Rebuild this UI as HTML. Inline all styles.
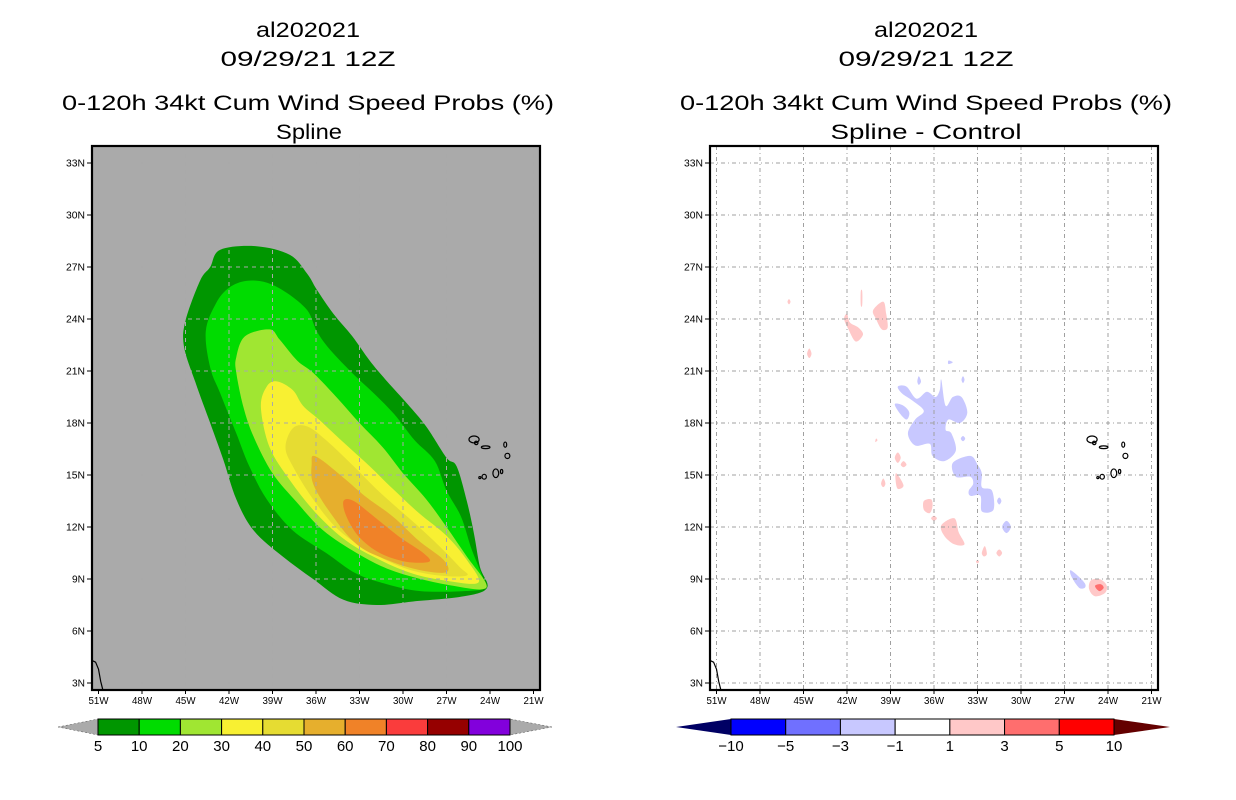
<!DOCTYPE html>
<html><head><meta charset="utf-8"><style>
html,body{margin:0;padding:0;background:#fff;width:1236px;height:800px;overflow:hidden}
svg{display:block;font-family:"Liberation Sans",sans-serif}
</style></head><body>
<svg id="root" width="1236" height="800" viewBox="0 0 1236 800">
<defs>
<clipPath id="clipL"><rect x="92" y="146" width="448" height="544"/></clipPath>
<clipPath id="clipR"><rect x="710" y="146" width="448" height="544"/></clipPath>
</defs>
<g font-size="21" text-anchor="middle" fill="#000">
<text x="308" y="37" textLength="104" lengthAdjust="spacingAndGlyphs">al202021</text>
<text x="308" y="66" textLength="175" lengthAdjust="spacingAndGlyphs">09/29/21 12Z</text>
<text x="308" y="110" textLength="492" lengthAdjust="spacingAndGlyphs">0-120h 34kt Cum Wind Speed Probs (%)</text>
<text x="309" y="139" textLength="66" lengthAdjust="spacingAndGlyphs">Spline</text>
</g>
<g font-size="21" text-anchor="middle" fill="#000">
<text x="926" y="37" textLength="104" lengthAdjust="spacingAndGlyphs">al202021</text>
<text x="926" y="66" textLength="175" lengthAdjust="spacingAndGlyphs">09/29/21 12Z</text>
<text x="926" y="110" textLength="492" lengthAdjust="spacingAndGlyphs">0-120h 34kt Cum Wind Speed Probs (%)</text>
<text x="926" y="139" textLength="191" lengthAdjust="spacingAndGlyphs">Spline - Control</text>
</g>
<g id="left"></g>
<g id="right"></g>
<g id="cbars"></g>
</svg>
<script>
const NS="http://www.w3.org/2000/svg";
// ----- data -----
const lonTicks=[51,48,45,42,39,36,33,30,27,24,21];
const latTicks=[33,30,27,24,21,18,15,12,9,6,3];
const probLevels=[5,10,20,30,40,50,60];
const probColors=["#009600","#00dc00","#a0e632","#f8f032","#e6dc32","#e6af2d","#f08228"];
const c5=[[42.6,28.0],[40.1,28.2],[37.8,27.7],[36.6,26.6],[35.95,25.7],[34.8,24.3],[33.5,23.0],[32.3,21.6],[31.2,20.5],[29.7,19.1],[28.4,17.8],[27.0,16.0],[26.3,15.5],[25.6,13.5],[25.1,11.6],[24.7,9.7],[24.2,8.5],[25.8,8.0],[29.3,7.7],[31.8,7.5],[34.1,7.8],[36.2,9.0],[38.3,10.3],[40.3,11.8],[41.5,13.6],[42.4,15.9],[43.3,18.0],[44.3,20.3],[45.1,22.4],[45.0,23.9],[44.0,26.2],[43.3,27.0]];
const c10=[[42.0,25.8],[40.8,26.2],[39.4,26.1],[38.0,25.5],[36.6,24.5],[35.95,23.3],[35.0,22.2],[33.4,20.8],[32.0,19.7],[30.6,18.5],[29.2,17.0],[27.8,15.8],[27.0,14.1],[26.0,12.6],[25.3,10.8],[24.6,9.3],[24.3,8.5],[25.8,8.3],[28.8,8.3],[31.1,8.7],[33.2,9.3],[35.3,10.5],[37.6,11.8],[39.4,13.6],[40.6,15.5],[41.5,17.4],[42.6,19.7],[43.3,21.2],[43.6,23.3],[42.9,24.9]];
const c20=[[40.9,23.0],[39.2,23.4],[38.5,22.8],[37.3,21.6],[36.2,20.9],[34.6,19.5],[33.0,18.0],[31.4,16.6],[30.0,15.1],[28.4,13.6],[27.0,12.0],[25.6,10.3],[24.3,8.8],[24.6,8.4],[26.5,8.6],[28.8,9.0],[31.1,9.6],[33.2,10.5],[35.5,11.8],[37.3,13.4],[39.0,15.1],[40.3,17.2],[41.0,18.9],[41.5,20.9],[41.5,21.8]];
const c30=[[39.4,20.1],[38.7,20.4],[37.6,19.9],[36.9,19.0],[35.8,18.2],[34.0,16.8],[32.3,15.5],[30.7,14.2],[28.9,12.8],[27.0,11.5],[25.6,10.1],[24.8,8.8],[27.0,8.9],[29.3,9.3],[31.6,10.1],[33.9,11.2],[36.0,12.8],[37.8,14.7],[39.2,16.6],[39.8,18.9]];
const c40=[[37.6,17.7],[36.6,17.8],[35.3,17.0],[33.4,15.5],[31.6,14.0],[29.3,12.3],[27.5,10.9],[26.1,9.7],[25.6,9.2],[27.5,9.2],[29.8,9.6],[32.1,10.5],[34.4,11.8],[36.2,13.6],[37.6,15.5],[38.1,16.6]];
const c50=[[36.2,16.1],[35.5,15.8],[33.9,14.7],[32.5,13.7],[30.7,12.6],[28.9,11.2],[27.2,10.1],[27.0,9.4],[28.8,9.5],[31.1,10.1],[33.2,11.0],[35.0,12.8],[36.2,14.5],[36.3,15.7]];
const c60=[[34.1,13.5],[33.4,13.5],[32.0,12.6],[30.2,11.4],[28.6,10.5],[28.2,10.0],[29.8,10.0],[31.6,10.5],[33.0,11.4],[33.9,12.6]];
const probContours=[c5,c10,c20,c30,c40,c50,c60];
// difference field blobs (W lon, N lat)
const diffNeg=[
[[38.5,20.1],[37.9,20.1],[37.2,19.4],[36.5,19.8],[35.9,19.5],[35.6,19.9],[35.5,20.5],[35.2,19.0],[34.7,19.5],[34.1,19.5],[33.7,18.6],[34.2,18.0],[35.0,18.2],[35.2,17.6],[34.8,17.4],[34.5,16.4],[35.3,15.8],[36.1,16.1],[36.3,16.8],[37.3,16.7],[37.8,17.4],[37.3,18.2],[36.7,18.7],[37.5,19.3],[38.2,19.7]],
[[38.7,19.1],[38.1,19.0],[37.7,18.6],[37.9,18.2],[38.4,18.6]],
[[34.7,15.7],[33.5,16.1],[33.0,15.6],[32.7,15.1],[32.7,14.3],[32.0,14.1],[31.9,13.0],[32.7,12.9],[32.8,13.8],[33.5,13.8],[33.6,14.1],[33.3,14.5],[33.5,14.9],[34.5,14.9]],
[[31.0,12.35],[30.7,12.0],[31.0,11.65],[31.3,12.0]],
[[37.05,20.7],[36.9,20.4],[37.05,20.2],[37.15,20.4]],
[[34.0,20.7],[33.9,20.5],[34.0,20.3],[34.1,20.5]],
[[35.0,21.6],[34.7,21.5],[35.0,21.4]],
[[34.0,17.25],[33.85,17.1],[34.0,16.95],[34.15,17.1]],
[[31.5,13.7],[31.35,13.5],[31.5,13.3],[31.65,13.5]],
[[26.6,9.5],[26.1,9.2],[25.6,8.75],[25.6,8.5],[26.0,8.5],[26.5,9.1]]
];
const diffPos1=[
[[40.2,24.5],[39.5,25.0],[39.3,24.3],[39.2,23.5],[39.6,23.4],[40.0,24.0]],
[[42.0,24.3],[41.8,23.8],[41.2,23.5],[40.9,23.1],[41.4,22.7],[41.9,23.4],[42.2,24.0]],
[[41.05,25.6],[40.95,25.6],[40.95,24.8],[41.05,24.8]],
[[44.6,22.3],[44.45,22.0],[44.6,21.75],[44.75,22.0]],
[[46.0,25.15],[45.9,25.0],[46.0,24.85],[46.1,25.0]],
[[38.5,16.3],[38.3,16.0],[38.5,15.7],[38.7,16.0]],
[[38.1,15.8],[37.9,15.6],[38.1,15.45],[38.3,15.6]],
[[38.6,15.1],[38.1,14.4],[38.5,14.2],[38.65,14.7]],
[[39.5,14.8],[39.35,14.5],[39.5,14.3],[39.65,14.5]],
[[36.7,13.5],[36.2,13.6],[36.1,13.2],[36.3,12.8],[36.7,13.0]],
[[36.0,12.65],[35.8,12.5],[36.0,12.35],[36.2,12.5]],
[[35.5,12.1],[34.6,12.5],[34.3,11.7],[33.9,11.0],[34.6,11.0],[35.3,11.5]],
[[32.5,10.9],[32.35,10.45],[32.55,10.3],[32.7,10.5]],
[[31.5,10.7],[31.3,10.5],[31.5,10.3],[31.7,10.5]],
[[33.0,10.1],[32.9,10.0],[33.0,9.9],[33.1,10.0]],
[[40.0,17.1],[39.9,17.0],[40.05,16.9]],
[[25.2,8.9],[24.6,9.0],[24.1,8.65],[24.2,8.2],[24.9,8.0],[25.3,8.4]]
];
const diffPos3=[[[24.9,8.6],[24.5,8.7],[24.3,8.5],[24.6,8.3]]];
const islands=[[25.1,17.05,0.35,0.2],[24.95,16.85,0.12,0.1],[24.3,16.6,0.3,0.08],[22.95,16.75,0.1,0.15],[22.8,16.1,0.17,0.15],[23.6,15.1,0.2,0.25],[24.4,14.9,0.15,0.14],[24.7,14.85,0.07,0.06],[23.2,15.2,0.08,0.12]];
const coast=[[51.45,4.3],[51.2,4.2],[51.0,3.8],[50.85,3.1],[50.7,2.6]];
const probBarLabels=["5","10","20","30","40","50","60","70","80","90","100"];
const probBarColors=["#009600","#00dc00","#a0e632","#f8f032","#e6dc32","#e6af2d","#f08228","#fa3c3c","#960000","#8200dc"];
const diffBarLabels=["\u221210","\u22125","\u22123","\u22121","1","3","5","10"];
const diffBarColors=["#0000ff","#7070ff","#c8c8ff","#ffffff","#ffc8c8","#ff6e6e","#ff0000"];

// ----- axis functions -----
function px(w,off){return 98.5+(51-w)*14.5+off;}
function py(n){return 163+(33-n)*17.333;}
function mk(tag,attrs,parent){const e=document.createElementNS(NS,tag);for(const k in attrs)e.setAttribute(k,attrs[k]);parent.appendChild(e);return e;}
function smoothPath(pts,off){
  const P=pts.map(p=>[px(p[0],off),py(p[1])]);const n=P.length;let d="M"+P[0][0].toFixed(1)+","+P[0][1].toFixed(1);
  for(let i=0;i<n;i++){const p0=P[(i-1+n)%n],p1=P[i],p2=P[(i+1)%n],p3=P[(i+2)%n];
    const c1=[p1[0]+(p2[0]-p0[0])/6,p1[1]+(p2[1]-p0[1])/6],c2=[p2[0]-(p3[0]-p1[0])/6,p2[1]-(p3[1]-p1[1])/6];
    d+="C"+c1[0].toFixed(1)+","+c1[1].toFixed(1)+" "+c2[0].toFixed(1)+","+c2[1].toFixed(1)+" "+p2[0].toFixed(1)+","+p2[1].toFixed(1);}
  return d+"Z";
}
function drawFrame(g,off,bg,gridColor,dash){
  const r=mk("rect",{x:92+off,y:146,width:448,height:544,fill:bg},g);
  
  
}
function drawGridAxes(g,off,gridColor,dash){
  const gg=mk("g",{stroke:gridColor,"stroke-width":1,"stroke-dasharray":dash,fill:"none"},g);
  
  
  lonTicks.forEach(w=>{const x=px(w,off);mk("line",{x1:x,y1:146,x2:x,y2:690},gg);});
  latTicks.forEach(n=>{const y=py(n);mk("line",{x1:92+off,y1:y,x2:540+off,y2:y},gg);});
  // coastline
  const cl=mk("polyline",{points:coast.map(p=>px(p[0],off)+","+py(p[1])).join(" "),fill:"none",stroke:"#000","stroke-width":1.2},g);
  
  
  const ig=mk("g",{fill:"none",stroke:"#000","stroke-width":1.2},g);
  
  
  islands.forEach(s=>{mk("ellipse",{cx:px(s[0],off),cy:py(s[1]),rx:s[2]*14.5,ry:s[3]*17.3},ig);});
  const fr=mk("rect",{x:92+off,y:146,width:448,height:544,fill:"none",stroke:"#000","stroke-width":2.2},g);
  
  
  const tg=mk("g",{stroke:"#000","stroke-width":1},g);
  const lg=mk("g",{"font-size":10,fill:"#000"},g);
  
  
  lonTicks.forEach(w=>{const x=px(w,off);mk("line",{x1:x,y1:690,x2:x,y2:694},tg);
    const t=mk("text",{x:x,y:704,"text-anchor":"middle",textLength:20,lengthAdjust:"spacingAndGlyphs"},lg);t.textContent=w+"W";
    
    });
  latTicks.forEach(n=>{const y=py(n);mk("line",{x1:87+off,y1:y,x2:92+off,y2:y},tg);
    const t=mk("text",{x:85+off,y:y+3.5,"text-anchor":"end",textLength:n<10?13:19,lengthAdjust:"spacingAndGlyphs"},lg);t.textContent=n+"N";
    
    });
}
// left map
const L=document.getElementById("left");
drawFrame(L,0,"#aaaaaa");
const cgL=mk("g",{"clip-path":"url(#clipL)"},L);
probContours.forEach((c,i)=>{const p=mk("path",{d:smoothPath(c,0),fill:probColors[i]},cgL);
  
  });
drawGridAxes(L,0,"#a9a9a9","4,4");
// right map
const R=document.getElementById("right");
drawFrame(R,618,"#ffffff");
const cgR=mk("g",{"clip-path":"url(#clipR)"},R);
drawGridAxes(R,618,"#a0a0a0","4,3,1,3");
diffNeg.forEach(c=>{const p=mk("path",{d:smoothPath(c,618),fill:"#c8c8ff"},cgR);
  
  });
diffPos1.forEach(c=>{const p=mk("path",{d:smoothPath(c,618),fill:"#ffc8c8"},cgR);
  
  });
diffPos3.forEach(c=>{const p=mk("path",{d:smoothPath(c,618),fill:"#ff6e6e"},cgR);
  
  });
// colorbars
const C=document.getElementById("cbars");
function colorbar(x0,x1,tipL,tipR,colors,labels,tipLC,tipRC,name){
  const g=mk("g",{},C);
  
  
  const y0=719,y1=735,ym=727;const w=(x1-x0)/colors.length;
  mk("polygon",{points:`${tipL},${ym} ${x0},${y0} ${x0},${y1}`,fill:tipLC,stroke:tipLC==="#aaaaaa"?"#555":"none","stroke-width":0.5,"stroke-dasharray":"2,2"},g);
  mk("polygon",{points:`${tipR},${ym} ${x1},${y0} ${x1},${y1}`,fill:tipRC,stroke:tipRC==="#aaaaaa"?"#555":"none","stroke-width":0.5,"stroke-dasharray":"2,2"},g);
  colors.forEach((c,i)=>{const r=mk("rect",{x:x0+i*w,y:y0,width:w,height:y1-y0,fill:c,stroke:"#000","stroke-width":1},g);
    
    });
  labels.forEach((l,i)=>{const t=mk("text",{x:x0+i*w,y:751,"text-anchor":"middle","font-size":15,fill:"#000"},g);t.textContent=l;
    
    });
}
colorbar(98,510,58,552,probBarColors,probBarLabels,"#aaaaaa","#aaaaaa","prob-colorbar");
colorbar(731,1114,676,1170,diffBarColors,diffBarLabels,"#000064","#640000","diff-colorbar");
</script>
</body></html>
